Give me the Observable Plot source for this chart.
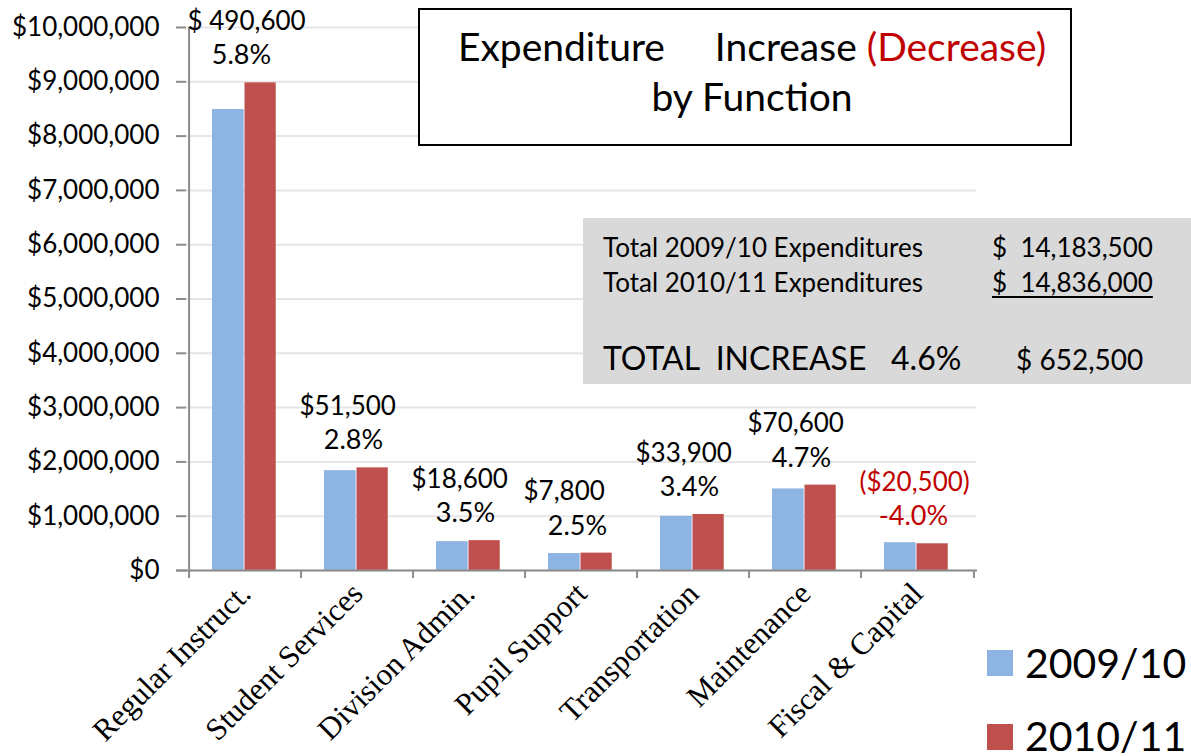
<!DOCTYPE html>
<html>
<head>
<meta charset="utf-8">
<script src="https://cdn.jsdelivr.net/npm/d3@7"></script>
<script src="https://cdn.jsdelivr.net/npm/@observablehq/plot@0.6"></script>
<style>
  html, body { margin: 0; padding: 0; background: #fff; }
  #wrap { position: relative; width: 1191px; height: 756px; overflow: hidden; font-family: Lato, "Open Sans", sans-serif; color: #000; }
  #wrap svg { position: absolute; left: 0; top: 0; }
  .ov { position: absolute; white-space: pre; }
</style>
</head>
<body>
<div id="wrap"></div>
<script>
// ---- data ----
const categories = ["Regular Instruct.", "Student Services", "Division Admin.", "Pupil Support", "Transportation", "Maintenance", "Fiscal & Capital"];
const values2009 = [8490000, 1839000, 531000, 312000, 997000, 1502000, 512500];
const values2010 = [8980600, 1890500, 549600, 319800, 1030900, 1572600, 492000];
const changeLabels = ["$ 490,600", "$51,500", "$18,600", "$7,800", "$33,900", "$70,600", "($20,500)"];
const pctLabels = ["5.8%", "2.8%", "3.5%", "2.5%", "3.4%", "4.7%", "-4.0%"];
const yTicks = [0, 1000000, 2000000, 3000000, 4000000, 5000000, 6000000, 7000000, 8000000, 9000000, 10000000];
const seriesNames = ["2009/10", "2010/11"];
const totalLabels = ["Total 2009/10 Expenditures", "Total 2010/11 Expenditures"];
const totalValues = ["$  14,183,500", "$  14,836,000"];
const totalIncrease = ["TOTAL  INCREASE   4.6%", "$ 652,500"];

const blue = "#8EB4E3", red = "#C0504D", axisGray = "#8c8c8c", negRed = "#C00000";

const rows = categories.map((c, i) => ({
  cat: c, v0: values2009[i], v1: values2010[i],
  chg: changeLabels[i], pct: pctLabels[i], neg: values2010[i] < values2009[i]
}));

const W = 1191, H = 756, mL = 186, mR = 215, mT = 27, mB = 186;
const step = (W - mL - mR) / categories.length;

const chart = Plot.plot({
  width: W, height: H,
  marginLeft: mL, marginRight: mR, marginTop: mT, marginBottom: mB,
  style: { background: "transparent", fontFamily: "Lato, sans-serif" },
  x: { domain: categories, padding: 0, axis: null },
  y: { domain: [0, 10000000], axis: null },
  marks: [
    Plot.gridY(yTicks, { stroke: "#e6e6e6", strokeOpacity: 1, strokeWidth: 2 }),
    Plot.barY(rows, { x: "cat", y: "v0", fill: blue, insetLeft: 23, insetRight: step - 55.5 }),
    Plot.barY(rows, { x: "cat", y: "v1", fill: red, insetLeft: 55.5, insetRight: step - 87.6 }),
    Plot.ruleY([0], { stroke: axisGray, strokeWidth: 2, insetLeft: -10, insetRight: -1 }),
    Plot.ruleX(categories.slice(0, 1), { x: d => d, y1: 0, y2: 10000000, dx: -step / 2, stroke: axisGray, strokeWidth: 2 }),
    Plot.ruleX(categories, { x: d => d, y1: 0, y2: 0, dx: -step / 2, insetBottom: -8, stroke: axisGray, strokeWidth: 2 }),
    Plot.ruleX(categories.slice(-1), { x: d => d, y1: 0, y2: 0, dx: step / 2, insetBottom: -8, stroke: axisGray, strokeWidth: 2 }),
    Plot.axisY(yTicks, {
      tickFormat: d3.format("$,"), tickSize: 10, tickPadding: 17,
      stroke: axisGray, strokeWidth: 2, fill: "#000", fontSize: 26, fontFamily: "Lato, sans-serif"
    }),
    Plot.axisX({
      tickRotate: -45, tickSize: 0, tickPadding: 18, label: null,
      fontSize: 31, fontFamily: "'Liberation Serif', 'Times New Roman', serif", fill: "#000"
    }),
    Plot.text(rows, {
      x: "cat", y: "v1", text: "chg", dy: -61, dx: -58, textAnchor: "start",
      fill: d => d.neg ? negRed : "#000", fontSize: 26, fontFamily: "Lato, sans-serif"
    }),
    Plot.text(rows, {
      x: "cat", y: "v1", text: "pct", dy: -27, dx: -4,
      fill: d => d.neg ? negRed : "#000", fontSize: 27, fontFamily: "Lato, sans-serif"
    })
  ]
});

const wrap = document.getElementById("wrap");
wrap.appendChild(chart);

function ov(html, css) {
  const d = document.createElement("div");
  d.className = "ov";
  d.innerHTML = html;
  Object.assign(d.style, css);
  wrap.appendChild(d);
  return d;
}

// Title box
ov(`<div style="text-align:center;font-size:39px;line-height:50px;padding-top:11px;padding-left:14px">Expenditure     Increase <span style="color:${negRed}">(Decrease)</span>\nby Function</div>`,
  { left: "418px", top: "8px", width: "650px", height: "134px", border: "2px solid #000", background: "#fff", boxSizing: "content-box" });

// Totals box
ov("", { left: "583px", top: "218px", width: "608px", height: "166px", background: "#d9d9d9" });
ov(totalLabels[0], { left: "603px", top: "231px", fontSize: "26px", lineHeight: "32px" });
ov(totalLabels[1], { left: "603px", top: "266px", fontSize: "26px", lineHeight: "32px" });
ov(totalValues[0], { left: "992px", top: "231px", fontSize: "26px", lineHeight: "32px" });
ov(`<span style="text-decoration:underline;text-underline-offset:4px">${totalValues[1]}</span>`, { left: "992px", top: "266px", fontSize: "26px", lineHeight: "32px" });
ov(totalIncrease[0], { left: "603px", top: "337px", fontSize: "32px", lineHeight: "42px" });
ov(totalIncrease[1], { left: "1016px", top: "340px", fontSize: "28px", lineHeight: "38px" });

// Legend
const legColors = [blue, red];
seriesNames.forEach((s, i) => {
  ov("", { left: "987px", top: (650 + i * 74) + "px", width: "26px", height: "26px", background: legColors[i] });
  ov(s, { left: "1025px", top: (645 + i * 73) + "px", fontSize: "41px", lineHeight: "36px" });
});
</script>
</body>
</html>
